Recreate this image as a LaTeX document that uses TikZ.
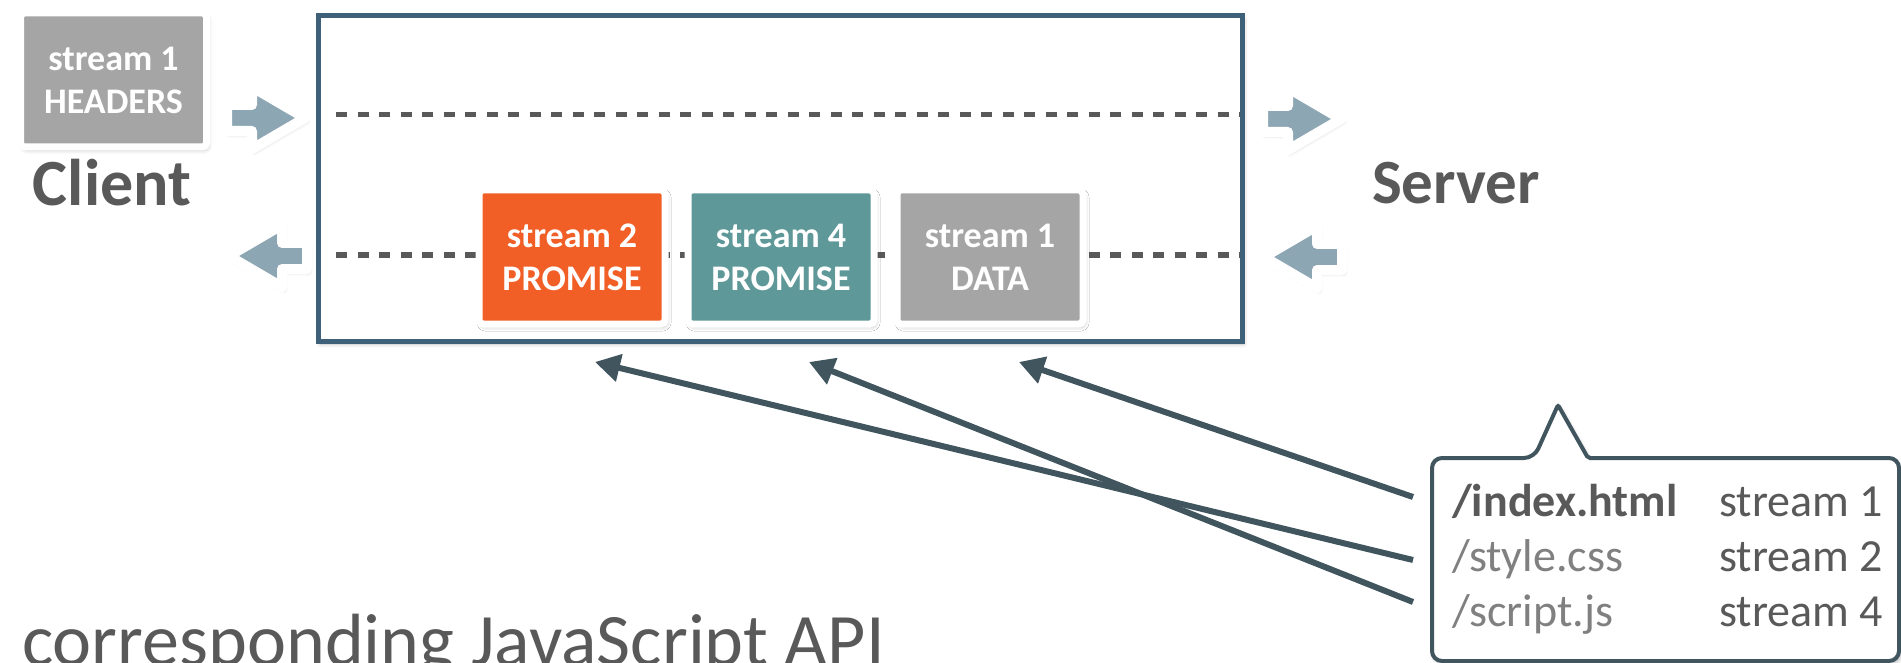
\documentclass[tikz,border=0pt]{standalone}
\usepackage{fontspec}
\setmainfont{Carlito}
\usetikzlibrary{arrows.meta,shadows.blur}
\definecolor{framecol}{HTML}{3F6079}
\definecolor{ptrcol}{HTML}{40555E}
\definecolor{arrowcol}{HTML}{8DA6B3}
\definecolor{wirecol}{HTML}{595959}
\definecolor{labelgray}{HTML}{595959}
\definecolor{pathgray}{HTML}{808080}
\definecolor{promiseorange}{HTML}{F15F27}
\definecolor{promiseteal}{HTML}{5E9898}
\definecolor{datagray}{HTML}{A5A5A5}
\begin{document}
\begin{tikzpicture}[
    x=1pt, y=-1pt,
    softshadow/.style={blur shadow={shadow xshift=2pt, shadow yshift=-3pt,
                shadow blur radius=4pt, shadow opacity=25}},
    frame/.style={draw=framecol, fill=white, line width=5pt, minimum width=924pt,
                minimum height=325pt, inner sep=0pt, softshadow},
    streambox/.style={draw=white, line width=7pt, rounded corners=4pt, minimum width=186pt,
                minimum height=134pt, inner sep=0pt, align=center, text=white,
                font=\fontsize{36}{43}\selectfont\bfseries, softshadow},
    wire/.style={draw=wirecol, line width=5pt, dash pattern=on 11pt off 10.5pt},
    ptr/.style={draw=ptrcol, line width=6pt, -{Triangle[length=25pt, width=27pt]}},
    host/.style={text=labelgray, inner sep=0pt, anchor=base},
    row/.style={font=\fontsize{46}{56}\selectfont, inner sep=0pt, anchor=base west},
    callout/.style={draw=ptrcol, fill=white, line width=4pt, softshadow},
    blockarrow/.pic={
        \draw[draw=white, line width=10pt, line join=round, fill=arrowcol, softshadow]
            (0,-13) -- (25,-13) -- (25,-31) -- (78,0) -- (25,31) -- (25,13) -- (0,13) -- cycle;
    }
]
\useasboundingbox (0,0) rectangle (1901,663);

% connection frame with the two directions
\node[frame] (conn) at (780,178.5) {};
\coordinate (up-a)   at (336,115);
\coordinate (up-b)   at (1240,115);
\coordinate (down-a) at (336,255);
\coordinate (down-b) at (1240,255);
\draw[wire] (up-a) -- (up-b);
\draw[wire] (down-a) -- (down-b);

% frames
\node[streambox, fill=datagray]      (hdr) at (113.5,80) {stream 1\\HEADERS};
\node[streambox, fill=promiseorange] (p2)  at (572,257)  {stream 2\\PROMISE};
\node[streambox, fill=promiseteal]   (p4)  at (781,257)  {stream 4\\PROMISE};
\node[streambox, fill=datagray]      (d1)  at (990,257)  {stream 1\\DATA};

% direction arrows
\pic at (227,118) {blockarrow};
\pic at (1263,119) {blockarrow};
\pic[xscale=-1] at (307,256) {blockarrow};
\pic[xscale=-1] at (1342,257) {blockarrow};

\node[host, font=\fontsize{66}{72}\selectfont\bfseries] (client) at (112,206) {Client};
\node[host, font=\fontsize{63}{70}\selectfont\bfseries] (server) at (1456,204) {Server};

% push callout
\draw[callout] (1432,600) [rounded corners=10pt] -- (1432,458) -- (1534,458)
    [rounded corners=2pt] -- (1558,405) -- (1588,458)
    [rounded corners=10pt] -- (1899,458) -- (1899,661) -- (1432,661) -- cycle;
\node[row, text=labelgray, font=\fontsize{46}{56}\selectfont\bfseries] (idx) at (1452,516) {/index.html};
\node[row, text=labelgray] (idx-s) at (1719,516) {stream 1};
\node[row, text=pathgray]  (css)   at (1452,571) {/style.css};
\node[row, text=labelgray] (css-s) at (1719,571) {stream 2};
\node[row, text=pathgray]  (js)    at (1452,626) {/script.js};
\node[row, text=labelgray] (js-s)  at (1719,626) {stream 4};

\coordinate (idx-in) at (1413,497);
\coordinate (css-in) at (1413,560);
\coordinate (js-in)  at (1413,602);
\coordinate (p2-at)  at (595,362);
\coordinate (p4-at)  at (809,362);
\coordinate (d1-at)  at (1019,362);
\draw[ptr] (css-in) -- (p2-at);
\draw[ptr] (js-in)  -- (p4-at);
\draw[ptr] (idx-in) -- (d1-at);

\node[anchor=base west, inner sep=0pt, text=labelgray, font=\fontsize{74}{80}\selectfont]
    (api) at (22,665) {corresponding JavaScript API};
\end{tikzpicture}
\end{document}
